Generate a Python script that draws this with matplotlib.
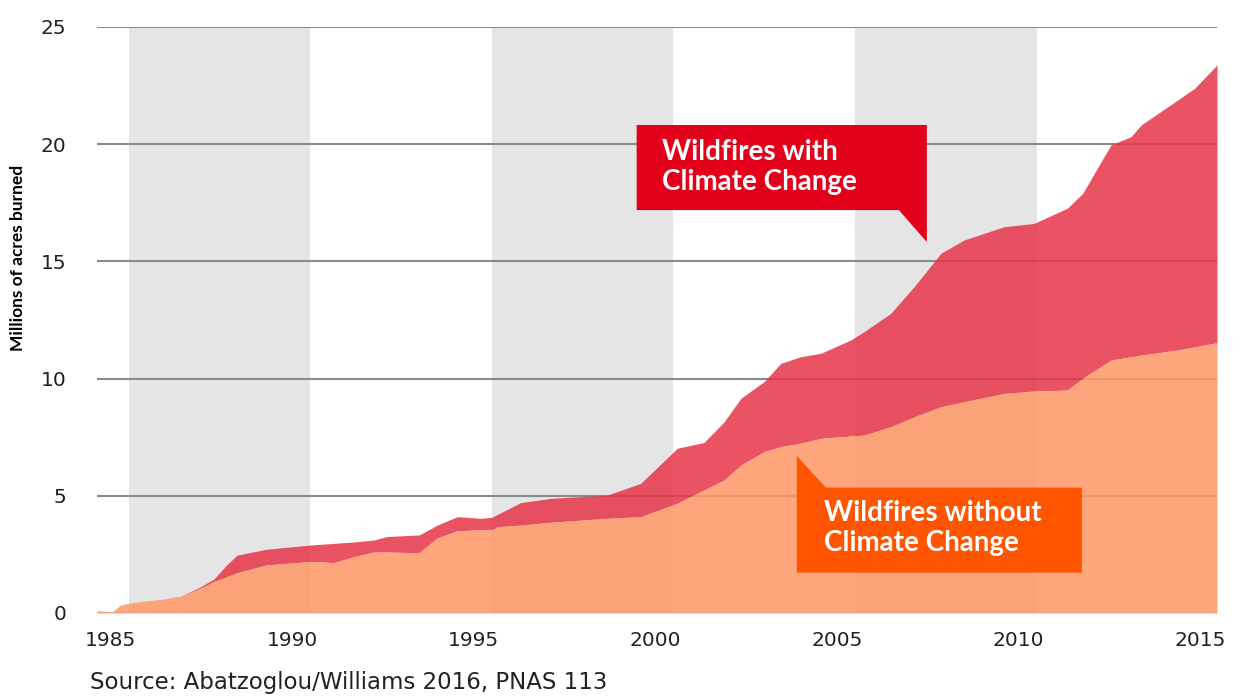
import matplotlib
matplotlib.use("Agg")
import matplotlib.pyplot as plt
from matplotlib.patches import Polygon

plt.rcParams["font.family"] = ["Lato", "DejaVu Sans"]

# === Daten ===
years = [1984.63, 1985.05, 1985.28, 1985.5, 1986.0, 1986.5, 1986.93, 1987.4, 1987.85,
         1988.2, 1988.49, 1989.3, 1990.5, 1991.15, 1991.7, 1992.25, 1992.6, 1993.5,
         1994.0, 1994.55, 1995.2, 1995.5, 1995.65, 1996.3, 1997.12, 1998.68, 1999.6,
         2000.61, 2001.34, 2001.9, 2002.36, 2003.0, 2003.46, 2004.0, 2004.56, 2005.39,
         2005.75, 2006.49, 2007.13, 2007.87, 2008.5, 2009.61, 2010.43, 2011.35, 2011.77,
         2012.55, 2013.1, 2013.38, 2014.39, 2014.85, 2015.47]
without_cc = [0.1, 0.05, 0.34, 0.42, 0.52, 0.6, 0.72, 1.0, 1.34,
              1.55, 1.72, 2.05, 2.2, 2.15, 2.4, 2.6, 2.6, 2.57,
              3.2, 3.51, 3.55, 3.54, 3.68, 3.75, 3.87, 4.04, 4.11,
              4.68, 5.25, 5.67, 6.31, 6.88, 7.1, 7.24, 7.45, 7.55,
              7.59, 7.95, 8.37, 8.8, 9.01, 9.37, 9.47, 9.51, 10.01,
              10.79, 10.93, 11.0, 11.22, 11.35, 11.53]
with_cc = [0.1, 0.05, 0.34, 0.42, 0.52, 0.6, 0.72, 1.05, 1.45,
           2.05, 2.47, 2.72, 2.9, 2.97, 3.03, 3.11, 3.26, 3.33,
           3.75, 4.11, 4.04, 4.08, 4.2, 4.71, 4.89, 5.03, 5.53,
           7.03, 7.27, 8.16, 9.16, 9.87, 10.65, 10.93, 11.08, 11.65,
           12.0, 12.79, 13.92, 15.35, 15.91, 16.48, 16.62, 17.27, 17.9,
           19.97, 20.32, 20.82, 21.89, 22.38, 23.38]
shaded = [(1985.5, 1990.5), (1995.5, 2000.5), (2005.5, 2010.5)]
xticks = [1985, 1990, 1995, 2000, 2005, 2010, 2015]
yticks = [0, 5, 10, 15, 20, 25]

fig = plt.figure(figsize=(12.4, 6.96), dpi=100)
ax = fig.add_axes([97 / 1240, 1 - 613 / 696, (1217 - 97) / 1240, (613 - 27) / 696])

# === Graue Bänder ===
for a, b in shaded:
    ax.axvspan(a, b, color="#e5e5e5", lw=0, zorder=0)

# === Gitterlinien ===
for y in yticks[1:]:
    ax.axhline(y, color="#8a8a8a", lw=1.5, zorder=1)
ax.axhline(0, color="#d0d0d0", lw=1.5, zorder=1)

# === Flächen ===
ax.fill_between(years, without_cc, with_cc, color="#e73549", alpha=0.85, lw=0, zorder=2)
ax.fill_between(years, 0, without_cc, color="#ff9766", alpha=0.85, lw=0, zorder=2)

ax.set_xlim(1984.63, 2015.47)
ax.set_ylim(0, 25)
ax.set_xticks(xticks)
ax.set_yticks(yticks)
ax.tick_params(length=0, labelsize=14.5, colors="#222222")
ax.tick_params(axis="x", pad=13)
ax.tick_params(axis="y", pad=22)
for lab in ax.get_xticklabels() + ax.get_yticklabels():
    lab.set_family("DejaVu Sans")
for s in ax.spines.values():
    s.set_visible(False)

# === Sprechblasen ===
red_box = [(1999.49, 20.82), (2007.48, 20.82), (2007.48, 15.83), (2006.71, 17.19), (1999.49, 17.19)]
ax.add_patch(Polygon(red_box, closed=True, color="#e2001a", lw=0, zorder=4))
ax.text(2000.2, 19.68, "Wildfires with", color="white", fontsize=20, fontweight="bold", va="center", zorder=5)
ax.text(2000.2, 18.40, "Climate Change", color="white", fontsize=20, fontweight="bold", va="center", zorder=5)

orange_box = [(2003.90, 6.70), (2004.70, 5.35), (2011.75, 5.35), (2011.75, 1.72), (2003.90, 1.72)]
ax.add_patch(Polygon(orange_box, closed=True, color="#ff5500", lw=0, zorder=4))
ax.text(2004.64, 4.27, "Wildfires without", color="white", fontsize=20, fontweight="bold", va="center", zorder=5)
ax.text(2004.64, 2.99, "Climate Change", color="white", fontsize=20, fontweight="bold", va="center", zorder=5)

fig.text(18 / 1240, 1 - 258 / 696, "Millions of acres burned", rotation=90, fontsize=12.5,
         fontweight="bold", ha="center", va="center")
fig.text(90 / 1240, 1 - 683 / 696, "Source: Abatzoglou/Williams 2016, PNAS 113", fontsize=16.5,
         color="#222222", ha="left", va="center", family="DejaVu Sans")

fig.savefig("out.png", dpi=100)
